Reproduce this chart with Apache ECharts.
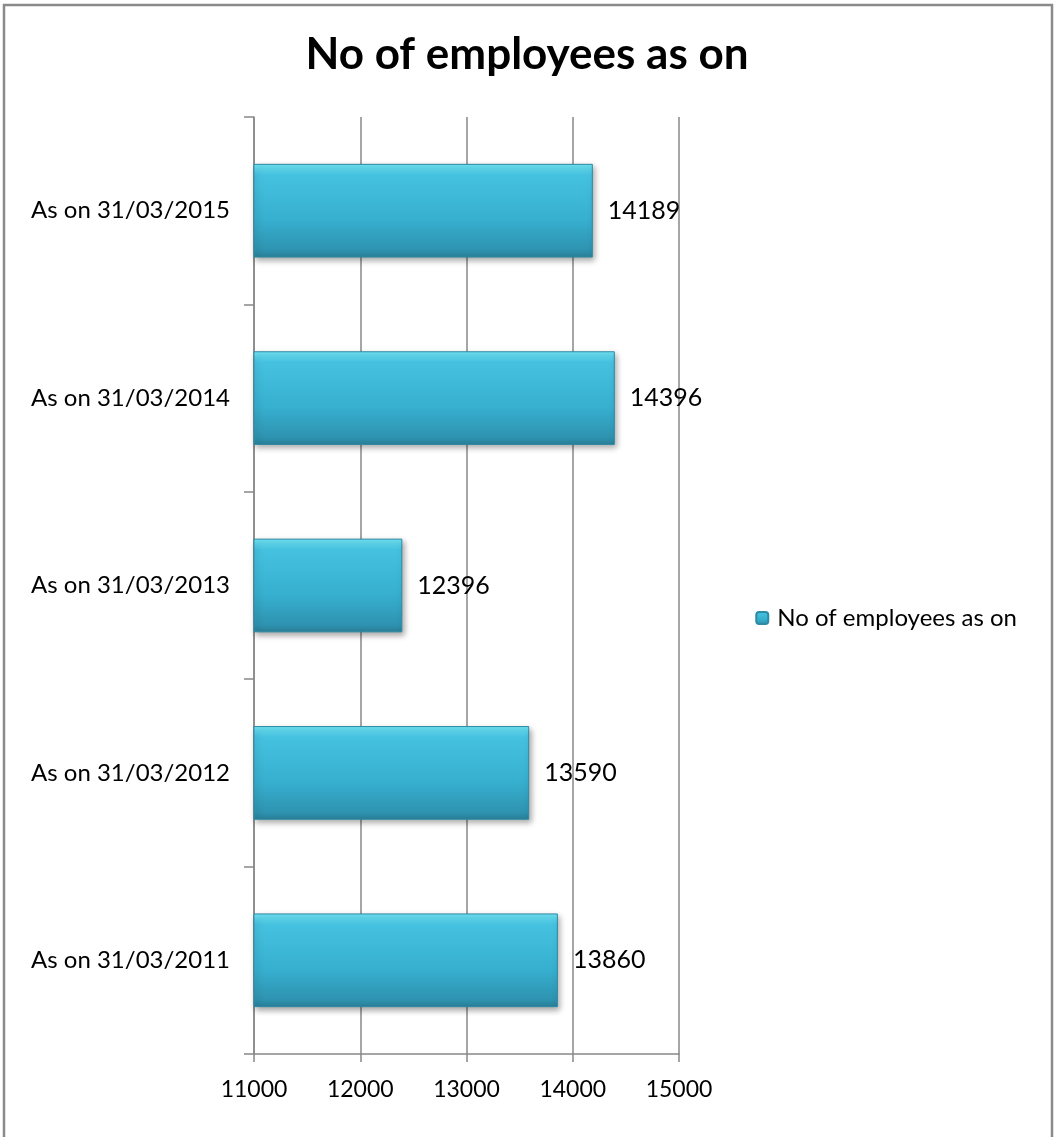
<!DOCTYPE html>
<html>
<head>
<meta charset="utf-8">
<script src="https://cdn.jsdelivr.net/npm/echarts@6/dist/echarts.min.js"></script>
<style>
  html, body { margin: 0; padding: 0; background: #fff; }
  #main { width: 1054px; height: 1137px; }
</style>
</head>
<body>
<div id="main"></div>
<script>
// 数据
var categories = ['As on 31/03/2011', 'As on 31/03/2012', 'As on 31/03/2013', 'As on 31/03/2014', 'As on 31/03/2015'];
var employees = [13860, 13590, 12396, 14396, 14189];
var seriesName = 'No of employees as on';

var myChart = echarts.init(document.getElementById('main'));

var barColor = new echarts.graphic.LinearGradient(0, 0, 0, 1, [
    {offset: 0, color: '#72e6f8'},
    {offset: 0.12, color: '#45c2e0'},
    {offset: 0.6, color: '#37afcf'},
    {offset: 0.92, color: '#2e93b0'},
    {offset: 1, color: '#2a7f98'}
]);

var option = {
    textStyle: { fontFamily: 'Lato' },
    title: {
        text: 'No of employees as on',
        left: 'center',
        top: 28,
        textStyle: { fontFamily: 'Lato', fontWeight: 'bold', fontSize: 44, color: '#000' }
    },
    legend: {
        data: [seriesName],
        right: 32,
        top: 601,
        orient: 'vertical',
        itemWidth: 12,
        itemHeight: 12,
        textStyle: { fontFamily: 'Lato', fontSize: 24, color: '#000', padding: [0, 0, 0, 4] }
    },
    grid: {
        left: 254,
        right: 375,
        top: 117,
        bottom: 83
    },
    xAxis: {
        type: 'value',
        min: 11000,
        max: 15000,
        interval: 1000,
        axisLine: { show: true, lineStyle: { color: '#888', width: 1.5 } },
        axisTick: { show: true, length: 8, lineStyle: { color: '#888', width: 1.5 } },
        axisLabel: {
            margin: 24, fontFamily: 'Lato', fontSize: 23, color: '#000',
            formatter: function(v) { return String(v); }
        },
        splitLine: { show: true, lineStyle: { color: '#888', width: 1.5 } }
    },
    yAxis: {
        type: 'category',
        data: categories,
        axisLine: { show: true, lineStyle: { color: '#888', width: 1.5 } },
        axisTick: { show: true, length: 10, lineStyle: { color: '#888', width: 1.5 } },
        axisLabel: { margin: 24, fontFamily: 'Lato', fontSize: 24, color: '#000' }
    },
    series: [{
        name: seriesName,
        type: 'bar',
        data: employees,
        barWidth: '50%',
        itemStyle: {
            color: barColor,
            borderColor: '#2f8aa3',
            borderWidth: 1,
            shadowColor: 'rgba(0,0,0,0.35)',
            shadowBlur: 6,
            shadowOffsetX: 2,
            shadowOffsetY: 3
        },
        label: {
            show: true,
            position: 'right',
            distance: 15,
            fontFamily: 'Lato',
            fontSize: 25,
            color: '#000'
        }
    }],
    graphic: [{
        type: 'rect',
        shape: { x: 4, y: 5, width: 1048, height: 1140 },
        style: { fill: 'none', stroke: '#8a8a8a', lineWidth: 2.5 },
        silent: true
    }]
};

myChart.setOption(option);
</script>
</body>
</html>
